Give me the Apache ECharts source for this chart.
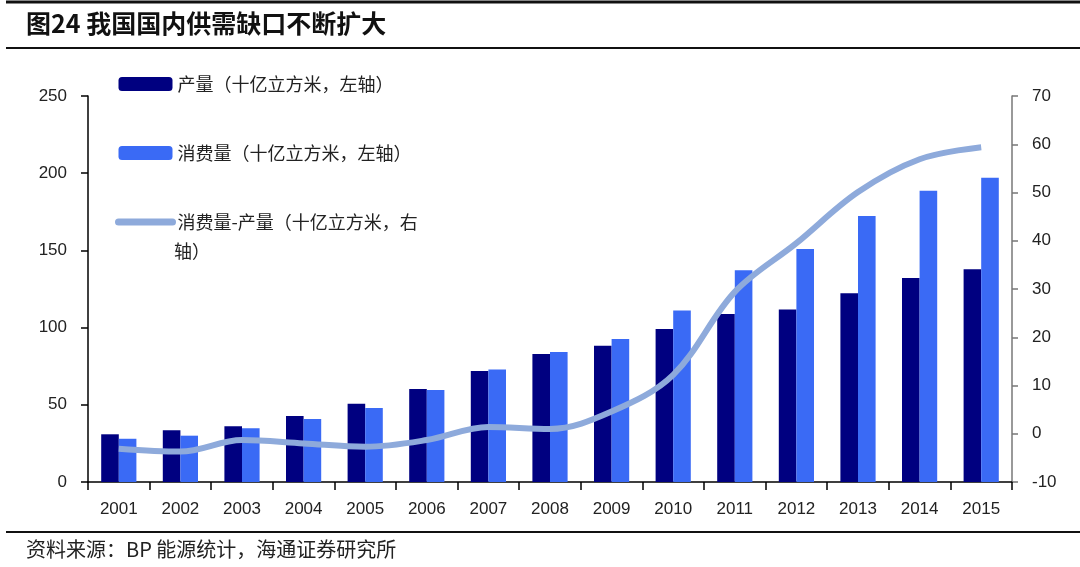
<!DOCTYPE html>
<html>
<head>
<meta charset="utf-8">
<script src="https://cdn.jsdelivr.net/npm/echarts@6/dist/echarts.min.js"></script>
<style>html,body{margin:0;padding:0;background:#fff;}#c{width:1080px;height:567px;}</style>
</head>
<body>
<div id="c"></div>
<script>
const years = ['2001','2002','2003','2004','2005','2006','2007','2008','2009','2010','2011','2012','2013','2014','2015'];
const production = [30.9, 33.5, 36.1, 42.7, 50.7, 60.2, 71.9, 82.9, 88.3, 99.1, 108.8, 111.8, 122.2, 132.1, 137.8];
const consumption = [28.0, 30.0, 34.8, 40.8, 48.0, 59.6, 72.9, 84.2, 92.6, 111.0, 137.1, 150.9, 172.3, 188.7, 197.1];
const gap = [-3.1, -3.7, -1.3, -2.0, -2.7, -1.3, 1.4, 1.0, 4.6, 12.2, 29.4, 39.5, 50.1, 56.9, 59.4];
const leftTicks = {min: 0, max: 250, interval: 50};
const rightTicks = {min: -10, max: 70, interval: 10};
const names = ['产量（十亿立方米，左轴）', '消费量（十亿立方米，左轴）', '消费量-产量（十亿立方米，右轴）'];
const titleText = '图24 我国国内供需缺口不断扩大';
const sourceText = '资料来源：BP 能源统计，海通证券研究所';

const cjk = '"Noto Sans CJK SC", sans-serif';
const num = '"Liberation Sans", Arial, sans-serif';
const chart = echarts.init(document.getElementById('c'));
chart.setOption({
  backgroundColor: '#fff',
  animation: false,
  title: [
    {text: titleText, left: 26, top: 11, padding: 0,
     textStyle: {fontFamily: cjk, fontSize: 25, fontWeight: 'bold', color: '#111'}},
    {text: sourceText, left: 26, top: 539, padding: 0,
     textStyle: {fontFamily: cjk, fontSize: 20, fontWeight: 'normal', color: '#222'}}
  ],
  graphic: [
    {type: 'line', shape: {x1: 6, y1: 2, x2: 1080, y2: 2}, style: {stroke: '#111', lineWidth: 3}},
    {type: 'line', shape: {x1: 6, y1: 48, x2: 1080, y2: 48}, style: {stroke: '#111', lineWidth: 2}},
    {type: 'line', shape: {x1: 6, y1: 532, x2: 1080, y2: 532}, style: {stroke: '#111', lineWidth: 2}},
    {type: 'text', left: 174, top: 242, style: {text: '轴）', font: '18px "Noto Sans CJK SC"', fill: '#222'}}
  ],
  legend: {
    orient: 'vertical', left: 115, top: 75, padding: 0, itemWidth: 54, itemHeight: 14, itemGap: 51,
    data: [names[0], names[1],
      {name: names[2], itemStyle: {color: 'rgba(0,0,0,0)', borderWidth: 0, opacity: 0},
       lineStyle: {width: 7, cap: 'round', color: '#8eaadb'}}],
    formatter: function (n) { return n === names[2] ? '消费量-产量（十亿立方米，右' : n; },
    textStyle: {fontFamily: cjk, fontSize: 18, color: '#222', lineHeight: 14}
  },
  grid: {left: 88, right: 68, top: 96, bottom: 85},
  xAxis: {
    type: 'category', data: years, boundaryGap: true,
    axisLine: {lineStyle: {color: '#000', width: 1.5}},
    axisTick: {show: true, length: 8, alignWithLabel: false, lineStyle: {color: '#000', width: 1.5}},
    axisLabel: {fontFamily: num, fontSize: 17, color: '#222', margin: 19, interval: 0}
  },
  yAxis: [
    {type: 'value', min: leftTicks.min, max: leftTicks.max, interval: leftTicks.interval, position: 'left',
     axisLine: {show: true, lineStyle: {color: '#000', width: 1.5}},
     axisTick: {show: true, length: 7, lineStyle: {color: '#000', width: 1.5}},
     axisLabel: {fontFamily: num, fontSize: 17, color: '#222', margin: 21},
     splitLine: {show: false}},
    {type: 'value', min: rightTicks.min, max: rightTicks.max, interval: rightTicks.interval, position: 'right',
     axisLine: {show: true, lineStyle: {color: '#777', width: 1.5}},
     axisTick: {show: true, length: 6, lineStyle: {color: '#777', width: 1.5}},
     axisLabel: {fontFamily: num, fontSize: 17, color: '#222', margin: 20},
     splitLine: {show: false}}
  ],
  series: [
    {name: names[0], type: 'bar', data: production, barWidth: 17.6, barGap: '0%',
     itemStyle: {color: '#000080'}},
    {name: names[1], type: 'bar', data: consumption, barWidth: 17.6, barGap: '0%',
     itemStyle: {color: '#3a6af5'}},
    {name: names[2], type: 'line', yAxisIndex: 1, data: gap, smooth: 0.35, symbol: 'none', z: 5,
     lineStyle: {color: '#8eaadb', width: 6}, itemStyle: {color: '#8eaadb'}}
  ]
});
</script>
</body>
</html>
